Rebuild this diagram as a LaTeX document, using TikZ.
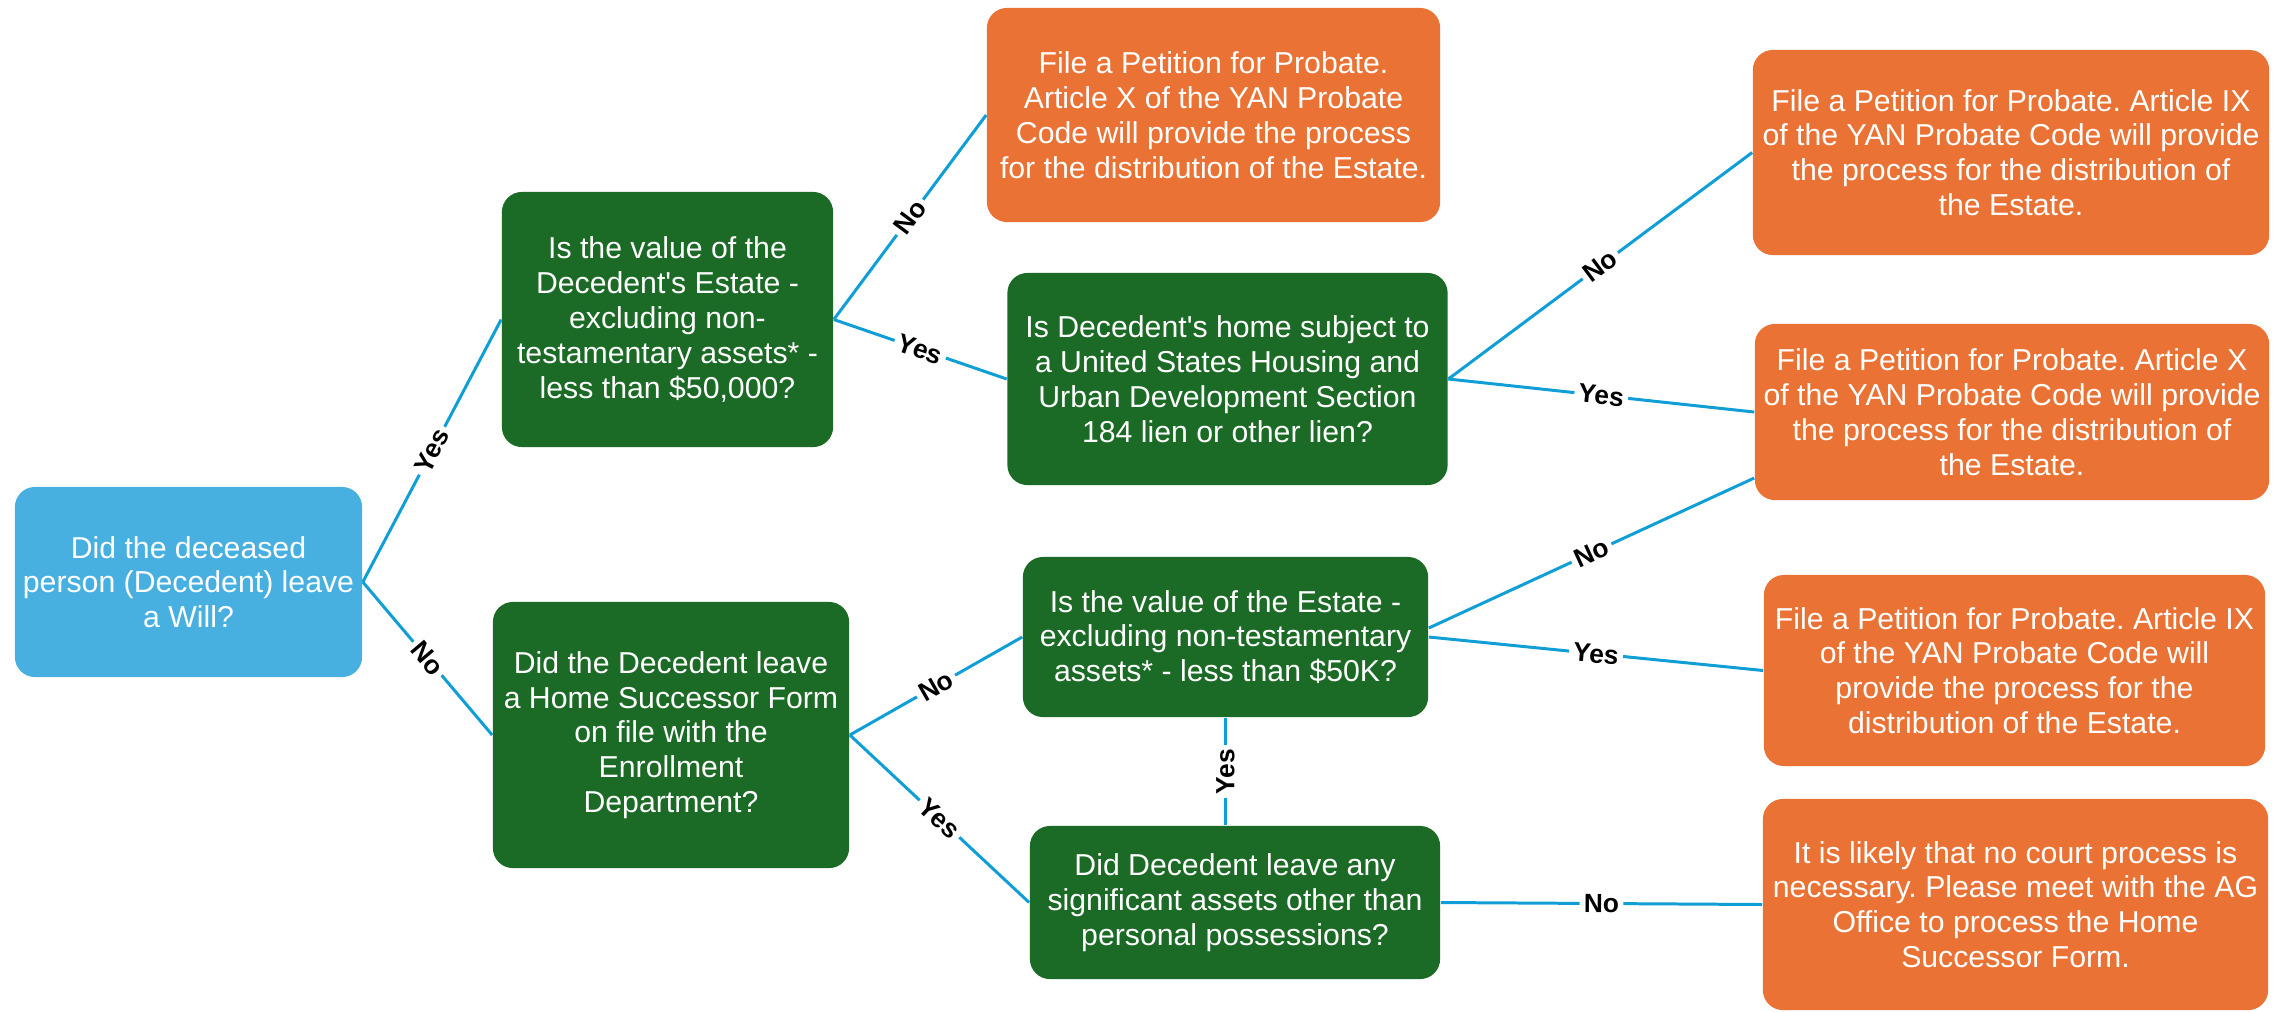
\documentclass[tikz,border=0pt]{standalone}
\usepackage{fontspec}
\setmainfont{Liberation Sans}
\frenchspacing
\definecolor{bluebox}{HTML}{48B0E0}
\definecolor{greenbox}{HTML}{1B6A25}
\definecolor{orangebox}{HTML}{E97234}
\definecolor{linkblue}{HTML}{0F9ED5}
\tikzset{
  box/.style={rounded corners=0.2cm, text=white, align=center, inner sep=0pt,
    font=\fontsize{8.6}{9.9}\selectfont},
  startbox/.style={box, fill=bluebox},
  askbox/.style={box, fill=greenbox},
  endbox/.style={box, fill=orangebox},
  link/.style={draw=linkblue, line width=0.85pt},
  lab/.style={fill=white, text=black, inner sep=1.2pt, font=\bfseries\fontsize{7.5}{8}\selectfont, midway, sloped}
}
\begin{document}
\begin{tikzpicture}[x=0.01cm,y=-0.01cm]
\useasboundingbox (0,0) rectangle (2276,1011);

\node[startbox, minimum width=3.47cm, minimum height=1.90cm] (A) at (188.5,582)
  {Did the deceased\\person (Decedent) leave\\a Will?};
\node[askbox, minimum width=3.31cm, minimum height=2.55cm] (B) at (667.5,319.5)
  {Is the value of the\\Decedent\textquotesingle s Estate -\\excluding non-\\testamentary assets* -\\less than \$50,000?};
\node[askbox, minimum width=3.56cm, minimum height=2.66cm] (C) at (671,735)
  {Did the Decedent leave\\a Home Successor Form\\on file with the\\Enrollment\\Department?};
\node[endbox, minimum width=4.53cm, minimum height=2.14cm] (D) at (1213.5,115)
  {File a Petition for Probate.\\Article X of the YAN Probate\\Code will provide the process\\for the distribution of the Estate.};
\node[askbox, minimum width=4.40cm, minimum height=2.12cm] (E) at (1227.5,379)
  {Is Decedent\textquotesingle s home subject to\\a United States Housing and\\Urban Development Section\\184 lien or other lien?};
\node[askbox, minimum width=4.05cm, minimum height=1.60cm] (F) at (1225.5,637)
  {Is the value of the Estate -\\excluding non-testamentary\\assets* - less than \$50K?};
\node[askbox, minimum width=4.10cm, minimum height=1.53cm] (G) at (1235,902.5)
  {Did Decedent leave any\\significant assets other than\\personal possessions?};
\node[endbox, minimum width=5.16cm, minimum height=2.05cm] (H) at (2011,152.5)
  {File a Petition for Probate. Article IX\\of the YAN Probate Code will provide\\the process for the distribution of\\the Estate.};
\node[endbox, minimum width=5.14cm, minimum height=1.76cm] (I) at (2012,412)
  {File a Petition for Probate. Article X\\of the YAN Probate Code will provide\\the process for the distribution of\\the Estate.};
\node[endbox, minimum width=5.01cm, minimum height=1.91cm] (J) at (2014.5,670.5)
  {File a Petition for Probate. Article IX\\of the YAN Probate Code will\\provide the process for the\\distribution of the Estate.};
\node[endbox, minimum width=5.05cm, minimum height=2.11cm] (K) at (2015.5,904.5)
  {It is likely that no court process is\\necessary. Please meet with the AG\\Office to process the Home\\Successor Form.};

\draw[link] (A.east) -- node[lab] {Yes} (B.west);
\draw[link] (A.east) -- node[lab] {No} (C.west);
\draw[link] (B.east) -- node[lab] {No} (D.west);
\draw[link] (B.east) -- node[lab] {Yes} (E.west);
\draw[link] (E.east) -- node[lab] {No} (H.west);
\draw[link] (E.east) -- node[lab] {Yes} (I.west);
\draw[link] ([yshift=0.09cm]F.east) -- node[lab] {No} ([yshift=-0.66cm]I.west);
\draw[link] (F.east) -- node[lab] {Yes} (J.west);
\draw[link] (C.east) -- node[lab] {No} (F.west);
\draw[link] (C.east) -- node[lab] {Yes} (G.west);
\coordinate (Gtop) at (F.south |- G.north);
\draw[link] (Gtop) -- node[lab] {Yes} (F.south);
\draw[link] (G.east) -- node[lab] {No} (K.west);
\end{tikzpicture}
\end{document}
